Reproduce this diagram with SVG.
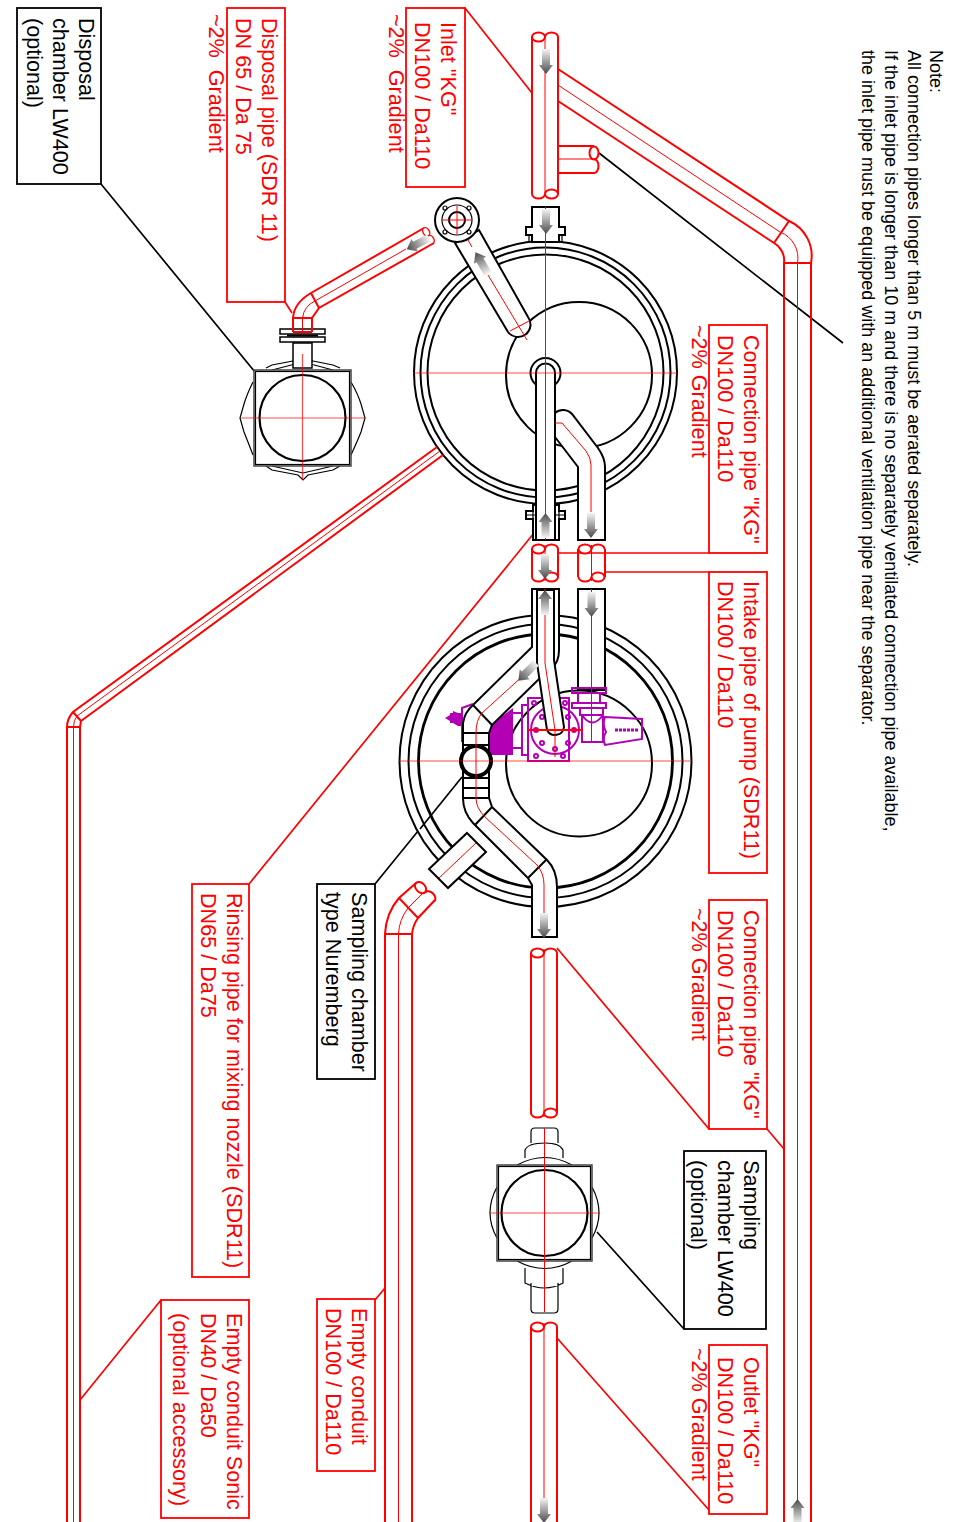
<svg xmlns="http://www.w3.org/2000/svg" width="961" height="1522" viewBox="0 0 961 1522">
<style>
text{font-family:"Liberation Sans",Arial,sans-serif;font-size:21.6px}
.r{fill:#f00}.k{fill:#000}.n{font-size:18px}
.b{fill:#fff;stroke:#000;stroke-width:2}
.bt{fill:none;stroke:#000;stroke-width:2}
.bn{fill:none;stroke:#000;stroke-width:1.200}
.p{fill:#fff;stroke:#f00;stroke-width:2}
.pn{fill:none;stroke:#f00;stroke-width:2}
.c{fill:none;stroke:#f00;stroke-width:1}
.cl{fill:none;stroke:#f00;stroke-width:1.200;opacity:.7}
.box{fill:#fff;stroke:#f00;stroke-width:1.800}
.kbox{fill:#fff;stroke:#000;stroke-width:1.800}
.ld{fill:none;stroke:#f00;stroke-width:1.700}
.lk{fill:none;stroke:#000;stroke-width:1.700}
.m{fill:none;stroke:#b400b4;stroke-width:2}
.mf{fill:#b400b4}
.sq{fill:#fff;stroke:#444;stroke-width:1.500}
</style>
<defs>
<linearGradient id="ag" x1="0" y1="0" x2="0" y2="1"><stop offset="0" stop-color="#f4f4f4"/><stop offset="1" stop-color="#4a4a4a"/></linearGradient>
<path id="ar" d="M-4,0H4V16H7L0,25L-7,16H-4Z" fill="url(#ag)"/>
<g id="end"><ellipse cx="6.5" cy="0" rx="6.5" ry="4.600" class="p"/><path d="M13,0A6.500,4.600 0 0 1 26,0" class="pn"/></g>
</defs>

<g id="connectors">
<path class="ld" d="M465,8L532,93M285,302L292,313M558,553H709M606,572H709M534,533L249,884M709,1129L557,948M767,1129L784,1149M709,1510L557,1338M385,1288L375,1300M161,1300L80,1400"/>
<path class="lk" d="M101,184L255,372M599,153L843,343M462,777L375,884M684,1329L597,1232"/>
</g>

<g id="vent-pipe">
<path class="pn" d="M558,69L789,221A38,38 0 0 1 811,263V1522M558,101L774,243A20,20 0 0 1 784,263V1522M784,263H811M789,221L774,243"/>
<path class="c" d="M558,85L780,232A28,28 0 0 1 797.500,263V1500"/>
<use href="#ar" transform="translate(797.500,1524) rotate(180)"/>
</g>

<g id="inlet-pipe">
<rect x="532" y="37" width="26" height="157" fill="#fff"/>
<path class="p" d="M558,146H594M558,173H594"/>
<path class="c" d="M558,159H594"/>
<ellipse cx="594" cy="153" rx="4.500" ry="6.500" class="p"/>
<path class="pn" d="M594,159A4.500,7 0 0 1 594,173"/>
<path class="pn" d="M532,37V194M558,37V194"/>
<use href="#end" transform="translate(532,37)"/>
<use href="#end" transform="translate(558,194) rotate(180)"/>
<path class="c" d="M545,37V194"/>
<use href="#ar" transform="translate(546,49)"/>
</g>

<g id="chamber-1">
<circle cx="545.500" cy="372.500" r="131.500" class="b"/>
<circle cx="545.500" cy="372.500" r="125" class="bt"/>
<circle cx="545.500" cy="372.500" r="118" class="bt"/>
<circle cx="579" cy="375" r="73" class="bt"/>
<path class="b" d="M532,207H559V227H565V235H559V242H532V235H526V227H532Z"/>
<path class="bn" d="M529,235V242M562,235V242"/>
<path class="b" d="M533,540V519H526V511H533V505H559V511H565V519H559V540Z"/>
<path class="bn" d="M526,515H565"/>
<path class="b" d="M455,243L508,332A12,12 0 0 0 528,317L479,230Z"/>
<path class="c" d="M468,240L472,247M488,275L527,340M510,331L529,321"/>
<use href="#ar" transform="translate(488,274) rotate(150)" />
<circle cx="457" cy="220" r="22" class="b"/>
<circle cx="457" cy="220" r="15" class="bn"/>
<circle cx="457" cy="220" r="8" class="bt"/>
<circle cx="445" cy="208" r="2" class="bn"/><circle cx="469" cy="208" r="2" class="bn"/><circle cx="445" cy="232" r="2" class="bn"/><circle cx="469" cy="232" r="2" class="bn"/>
<path class="c" d="M443,220H471M457,206V234"/>
<circle cx="545.500" cy="373" r="15" class="b"/>
<path class="b" d="M536,540V373A9.500,9.500 0 0 1 555,373V540Z"/>
<path class="bn" d="M533,505V540M559,505V540"/>
<path class="b" d="M578,540V467L555,437V413A12,12 0 0 1 572,414L598,448Q605,458 605,467V540Z"/>
<path class="c" d="M591,512V465Q591,458 586,451L562,423H555"/>
<path class="cl" d="M413,373H677"/>
<path class="c" d="M545.500,207V540"/>
<use href="#ar" transform="translate(546,209)"/>
<use href="#ar" transform="translate(545.500,538) rotate(180)"/>
<use href="#ar" transform="translate(591,513)"/>
</g>

<g id="mid-pipes">
<rect x="532" y="549" width="26" height="28" fill="#fff"/>
<path class="pn" d="M532,549V577M558,549V577M578,549V577M605,549V577"/>
<use href="#end" transform="translate(532,549)"/>
<use href="#end" transform="translate(558,577) rotate(180)"/>
<use href="#end" transform="translate(578.500,549)"/>
<use href="#end" transform="translate(604.500,577) rotate(180)"/>
<path class="c" d="M545,545V581M591.500,545V581"/>
<use href="#ar" transform="translate(545,554)"/>
</g>

<g id="chamber-2">
<circle cx="545.500" cy="761" r="146" class="b"/>
<circle cx="545.500" cy="761" r="137" class="bt"/>
<circle cx="545.500" cy="761" r="127" class="bt" style="stroke-width:2.800"/>
<circle cx="579" cy="763.500" r="73" class="bt"/>
<path class="lk" d="M462,777L420,829"/>
<g id="pump">
<path class="mf" d="M489,726L513,708V755H489Z"/>
<path class="m" d="M462,742V708L473,704M513,713H522V748H513M522,705H528V755H522Z"/>
<path class="mf" d="M445,718L450,715V713H453V711L458,713H462V726H458L453,723H450V721Z"/>
<rect x="528" y="698" width="41" height="63" class="m"/>
<circle cx="555" cy="730" r="24" class="m"/>
<g fill="none" stroke="#b400b4" stroke-width="2"><circle cx="536" cy="730" r="2"/><circle cx="574" cy="730" r="2"/><circle cx="555" cy="749" r="2"/><circle cx="542" cy="717" r="2"/><circle cx="568" cy="717" r="2"/><circle cx="542" cy="743" r="2"/><circle cx="568" cy="743" r="2"/><circle cx="536" cy="756" r="2"/><circle cx="563" cy="756" r="2"/><circle cx="534" cy="703" r="2"/><circle cx="565" cy="703" r="2"/></g>
<path class="m" d="M572,688H606V693H572ZM572,703H606V708H572ZM578,693V703M600,693V703M580,708H603V715H580ZM582,715V742H603V715M582,715Q592,730 603,715M605,717L642,719V739L605,745Q602,738 606,732Q602,724 605,717Z"/>
<path d="M615,730H638" stroke="#b400b4" stroke-width="3" stroke-dasharray="3,1" fill="none"/>
</g>
<path class="b" d="M463,798V733H489V798Z"/>
<path class="bt" d="M463,745H489M463,778H489M463,788H489M463,733V798"/>
<path class="b" d="M463,733V723A30,30 0 0 1 473,705L532,647V589H559V650Q559,662 552,668L538,680L492,725L489,733Z"/>
<path class="bt" d="M473,705L492,725"/>
<path class="b" d="M463,798Q463,812 473,823L528,878L532,885V937H557V887Q557,870 547,860L492,807L489,798Z"/>
<path class="bt" d="M475,825L492,807M528,878L546,860"/>
<path class="b" d="M467,833L486,852L448,888L429,869Z"/>
<path class="c" d="M476,843L439,878"/>
<circle cx="476" cy="761" r="15" fill="#fff" stroke="#000" stroke-width="4"/>
<path class="b" d="M537,590V663L547,730A9,9 0 0 0 564,727L554,660V590Z"/>
<path class="b" d="M578,589V690H605V589Z"/>
<path class="bt" d="M532,589H559"/>
<path class="m" d="M572,688H606V693H572Z"/>
<path class="c" d="M545,589V663L555,730M591.500,589V742M536,664L482,713Q476,720 476,733V798Q476,808 485,817L537,865Q544,873 544,885V937"/>
<path d="M528,730H583" stroke="#f00" stroke-width="2" fill="none"/>
<path d="M555,730V757" stroke="#f00" stroke-width="1" fill="none"/>
<path class="cl" d="M399,761H692"/>
<use href="#ar" transform="translate(545,615) rotate(180)"/>
<use href="#ar" transform="translate(591.500,592)"/>
<use href="#ar" transform="translate(536,663) rotate(45)"/>
<use href="#ar" transform="translate(544,913)"/>
</g>

<g id="disposal-pipe">
<path class="pn" d="M293,332V318Q294,303 311,293L424,228M312,332V318L319,308L434,243M293,318H312M311,293L319,308M293,332H312"/>
<path class="c" d="M302.500,332V318Q304,306 315,301L406,249"/>
<use href="#end" transform="translate(424,228) rotate(60) scale(.69)"/>
<use href="#ar" transform="translate(429,238) rotate(63)"/>
</g>

<g id="disposal-chamber">
<path class="bn" d="M266,368L272,365L298,360L303,355L308,360L333,365L340,368M272,370L303,362L333,370M266,466L272,470L298,475L303,480L308,475L333,470L340,466M272,466L303,473L333,466M253,382Q247,394 244,404L240,418L244,432Q248,442 253,455M255,385V450M351,382Q358,394 361,404L365,418L361,432Q357,442 351,455M349,385V450"/>
<path class="b" d="M293,343H312V368H293Z" style="stroke-width:1.500"/>
<path class="b" d="M280,329H325V334H280ZM280,337H325V342H280Z" style="stroke-width:1.500"/>
<path d="M287,335.500H318" stroke="#000" stroke-width="2"/>
<rect x="254" y="370" width="97" height="96" class="sq"/>
<rect x="255.500" y="371.500" width="94" height="93" class="bn"/>
<circle cx="302.500" cy="418" r="43" fill="#fff" stroke="#000" stroke-width="2.200"/>
<path class="cl" d="M241,418H365"/><path class="cl" d="M302.500,354V480"/>
<path class="pn" d="M293,319V332M312,319V332M293,332H312"/><path class="c" d="M302.500,319V332"/>
</g>

<g id="out-pipe">
<path class="pn" d="M531,953V1113M557,953V1113"/>
<use href="#end" transform="translate(531,953)"/>
<use href="#end" transform="translate(557,1113) rotate(180)"/>
<path class="c" d="M544,949V1117"/>
</g>

<g id="sampling-chamber">
<path class="bn" d="M531,1143V1132Q531,1128 535,1128H554Q558,1128 558,1132V1143M525,1158V1150Q528,1143 545,1143Q560,1143 563,1150V1158M517,1165Q545,1150 572,1165M497,1187Q483,1213 497,1238M592,1187Q606,1213 592,1238M531,1283V1309Q531,1313 535,1313H554Q558,1313 558,1309V1283M525,1268V1283Q545,1293 563,1283V1268M517,1261Q545,1276 572,1261"/>
<rect x="497" y="1165" width="95" height="96" class="sq"/>
<rect x="498.500" y="1166.500" width="92" height="93" class="bn"/>
<circle cx="544.500" cy="1213" r="43" fill="#fff" stroke="#000" stroke-width="2.200"/>
<path class="cl" d="M489,1213H600"/><path d="M544.500,1128V1312" stroke="#f00" stroke-width="1" fill="none"/>
</g>

<g id="outlet-pipe">
<path class="pn" d="M531,1327V1522M557,1327V1522"/>
<use href="#end" transform="translate(531,1327)"/>
<path class="c" d="M544,1323V1505"/>
<use href="#ar" transform="translate(544,1498)"/>
</g>

<g id="rinsing-long-pipe">
<path class="pn" d="M437,447L73,712Q67,719 67,727V1522M443,455L81,721L80,727V1522M67,727H80M73,712L81,721"/>
<path class="c" d="M440,451L77,716Q73.500,720 73.500,727V1522"/>
</g>

<g id="empty-conduit">
<path class="pn" d="M385,1522V934Q386,913 399,898L416,883M412,1522V934Q413,925 418,918L435,900M385,934H412M399,898L418,918"/>
<path class="c" d="M398.500,1522V934Q399,920 408,908L425,891"/>
<use href="#end" transform="translate(416,883) rotate(45)"/>
</g>

<g id="label-note" class="k">
<text class="n" transform="translate(930,50) rotate(90)">Note:</text>
<text class="n" transform="translate(908,50) rotate(90)">All connection pipes longer than 5 m must be aerated separately.</text>
<text class="n" transform="translate(885,50) rotate(90)">If the inlet pipe is longer than 10 m and there is no separately ventilated connection pipe available,</text>
<text class="n" transform="translate(862,50) rotate(90)">the inlet pipe must be equipped with an additional ventilation pipe near the separator.</text>
</g>
<g id="label-inlet"><rect x="406" y="8" width="59" height="179" class="box"/><g class="r">
<text transform="translate(441,22) rotate(90)">Inlet "KG"</text><text transform="translate(415,22) rotate(90)">DN100 / Da110</text><text xml:space="preserve" transform="translate(389,14) rotate(90)">~2%  Gradient</text></g></g>
<g id="label-disposal-pipe"><rect x="227" y="8" width="58" height="294" class="box"/><g class="r">
<text transform="translate(262,18) rotate(90)">Disposal pipe (SDR 11)</text><text transform="translate(236,18) rotate(90)">DN 65 / Da 75</text></g>
<text class="r" xml:space="preserve" transform="translate(209,14) rotate(90)">~2%  Gradient</text></g>
<g id="label-disposal-chamber"><rect x="17" y="8" width="84" height="176" class="kbox"/>
<text transform="translate(79,18) rotate(90)">Disposal</text><text transform="translate(53,18) rotate(90)">chamber LW400</text><text transform="translate(27,18) rotate(90)">(optional)</text></g>
<g id="label-conn1"><rect x="709" y="325" width="58" height="228" class="box"/><g class="r">
<text transform="translate(744,335) rotate(90)">Connection pipe "KG"</text><text transform="translate(718,335) rotate(90)">DN100 / Da110</text><text transform="translate(692,325) rotate(90)">~2% Gradient</text></g></g>
<g id="label-intake"><rect x="709" y="572" width="58" height="301" class="box"/><g class="r">
<text transform="translate(744,581) rotate(90)">Intake pipe of pump (SDR11)</text><text transform="translate(718,581) rotate(90)">DN100 / Da110</text></g></g>
<g id="label-conn2"><rect x="709" y="900" width="58" height="229" class="box"/><g class="r">
<text transform="translate(744,910) rotate(90)">Connection pipe "KG"</text><text transform="translate(718,910) rotate(90)">DN100 / Da110</text><text transform="translate(692,908) rotate(90)">~2% Gradient</text></g></g>
<g id="label-sampling"><rect x="684" y="1151" width="82" height="178" class="kbox"/>
<text transform="translate(744,1160) rotate(90)">Sampling</text><text transform="translate(718,1160) rotate(90)">chamber LW400</text><text transform="translate(691,1160) rotate(90)">(optional)</text></g>
<g id="label-outlet"><rect x="709" y="1345" width="58" height="169" class="box"/><g class="r">
<text transform="translate(744,1357) rotate(90)">Outlet "KG"</text><text transform="translate(718,1357) rotate(90)">DN100 / Da110</text><text transform="translate(692,1348) rotate(90)">~2% Gradient</text></g></g>
<g id="label-nuremberg"><rect x="317" y="884" width="58" height="195" class="kbox"/>
<text transform="translate(352,892) rotate(90)">Sampling chamber</text><text transform="translate(326,892) rotate(90)">type Nuremberg</text></g>
<g id="label-rinsing"><rect x="192" y="884" width="57" height="393" class="box"/><g class="r">
<text transform="translate(227,893) rotate(90)">Rinsing pipe for mixing nozzle (SDR11)</text><text transform="translate(201,893) rotate(90)">DN65 / Da75</text></g></g>
<g id="label-empty"><rect x="317" y="1299" width="58" height="172" class="box"/><g class="r">
<text transform="translate(352,1308) rotate(90)">Empty conduit</text><text transform="translate(326,1308) rotate(90)">DN100 / Da110</text></g></g>
<g id="label-sonic"><rect x="161" y="1300" width="88" height="218" class="box"/><g class="r">
<text transform="translate(227,1313) rotate(90)">Empty conduit Sonic</text><text transform="translate(201,1313) rotate(90)">DN40 / Da50</text><text transform="translate(173,1313) rotate(90)">(optional accessory)</text></g></g>
</svg>
